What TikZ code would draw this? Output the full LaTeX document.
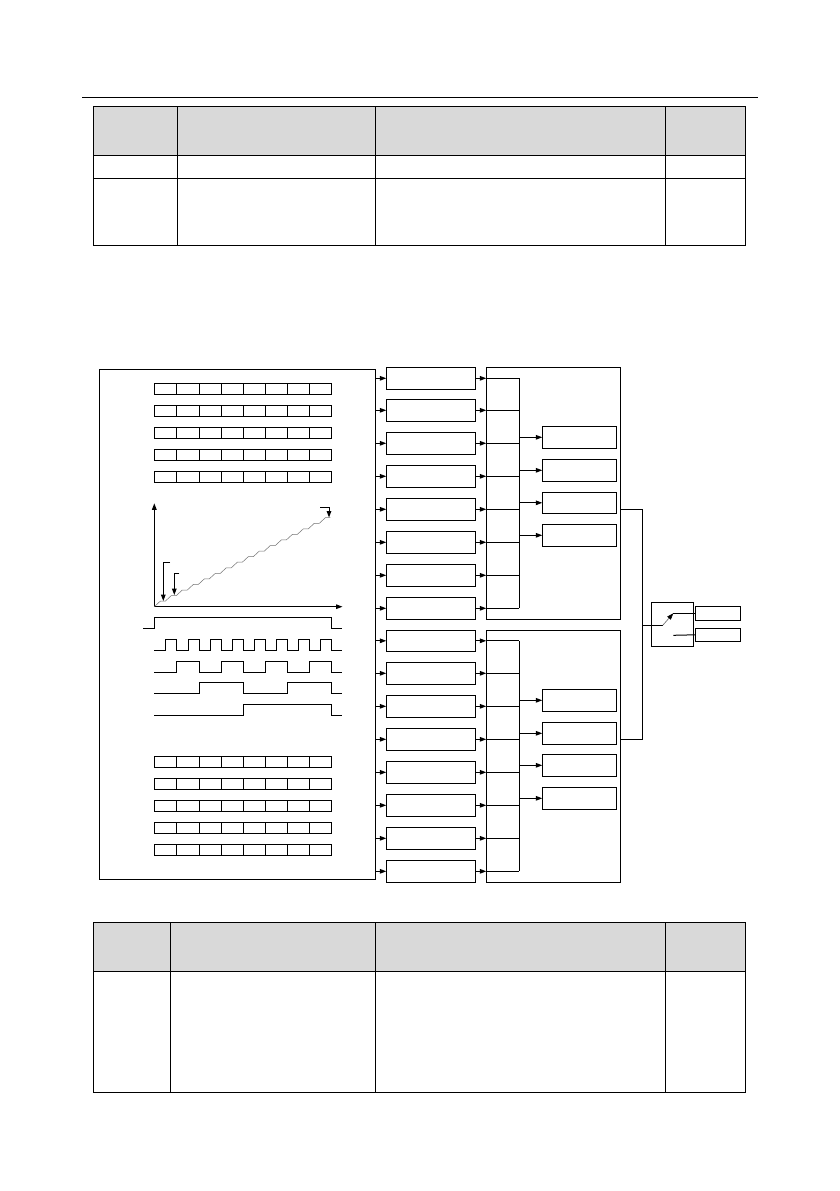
\documentclass[tikz,border=0pt]{standalone}
\usetikzlibrary{arrows.meta}
\definecolor{headgray}{HTML}{D9D9D9}
\newcommand{\bx}[5]{%
  \pgfmathsetmacro{\bxw}{#4-#2}\pgfmathsetmacro{\bxh}{#5-#3}%
  \pgfmathsetmacro{\bxcx}{(#2+#4)/2}\pgfmathsetmacro{\bxcy}{(#3+#5)/2}%
  \node[blk,minimum width=\bxw pt,minimum height=\bxh pt] (#1) at (\bxcx,\bxcy) {};%
}
\tikzset{
  blk/.style={draw=black,line width=1pt,inner sep=0pt,outer sep=0pt,rectangle,fill=none},
  ln/.style={line width=1pt,line cap=butt,line join=miter},
  ar/.style={ln,-{Triangle[length=6.5pt,width=4.6pt]}},
  tbl/.style={line width=1pt},
  stair/.style={line width=0.5pt,draw=black!55}
}
\begin{document}
\begin{tikzpicture}[x=1pt,y=-1pt]
\useasboundingbox (0,0) rectangle (839,1191);
\fill[white] (0,0) rectangle (839,1191);
% page rule
\draw[line width=0.9pt] (82,97.3) -- (757.5,97.3);
% top table
\fill[headgray] (93.7,106.7) rectangle (745.4,155.3);
\draw[tbl] (93.7,106.7) rectangle (745.4,245.3);
\draw[tbl] (93.7,155.3) -- (745.4,155.3);
\draw[tbl] (93.7,178.3) -- (745.4,178.3);
\foreach \x in {177.6,375.4,665.5} \draw[tbl] (\x,106.7) -- (\x,245.3);
% bottom table
\fill[headgray] (93.7,922.3) rectangle (745.4,971.3);
\draw[tbl] (93.7,922.3) rectangle (745.4,1092.3);
\draw[tbl] (93.7,971.3) -- (745.4,971.3);
\foreach \x in {170.4,375.4,665.5} \draw[tbl] (\x,922.3) -- (\x,1092.3);
% main left panel
\bx{main}{99.3}{369.3}{375.7}{879.3}
% register rows
\foreach \y in {383.3,405.3,427.3,449.3,471.3,756.3,778.3,800.3,822.3,844.3}{
  \draw[ln] (154.3,\y) rectangle (331.3,\y+11);
  \foreach \x in {176.3,199.3,221.3,243.7,265.7,287.3,309.3}
    \draw[ln] (\x,\y) -- (\x,\y+11);
}
% ramp plot
\coordinate (org) at (154.3,606.7);
\coordinate (ytop) at (154.3,503.3);
\coordinate (xend) at (342.5,606.7);
\draw[ar] (org) -- (ytop);
\draw[ar] (org) -- (xend);
\draw[stair] (org) \foreach \i in {0,...,15}{
  -- ({154.3+11*\i+6},{606.7-5.56*(\i+1)}) -- ({154.3+11*(\i+1)},{606.7-5.56*(\i+1)})};
\coordinate (m1) at (170,562.3);
\coordinate (m1t) at (163.3,601);
\draw[ar] (m1) -- (m1 -| m1t) -- (m1t);
\coordinate (m2) at (179.3,573.3);
\coordinate (m2t) at (174.3,595);
\draw[ar] (m2) -- (m2 -| m2t) -- (m2t);
\coordinate (m3) at (320,507.3);
\coordinate (m3t) at (329,517.5);
\draw[ar] (m3) -- (m3 -| m3t) -- (m3t);
% waveforms
\draw[ln] (143.3,628.3) -| (154.3,617.3) -| (331.3,628.3) -- (342.3,628.3);
\draw[ln] (154.3,650.3) -| (165.3,639.3) -| (176.3,650.3) -| (188.3,639.3) -| (199.3,650.3)
  -| (210.3,639.3) -| (221.3,650.3) -| (232.3,639.3) -| (243.7,650.3) -| (254.3,639.3)
  -| (265.7,650.3) -| (276.3,639.3) -| (287.3,650.3) -| (298.3,639.3) -| (309.3,650.3)
  -| (320.3,639.3) -| (331.3,650.3) -- (342.3,650.3);
\draw[ln] (154.3,672.3) -| (176.3,661.3) -| (199.3,672.3) -| (221.3,661.3) -| (243.7,672.3)
  -| (265.7,661.3) -| (287.3,672.3) -| (309.3,661.3) -| (331.3,672.3) -- (342.3,672.3);
\draw[ln] (154.3,693.3) -| (199.3,682.3) -| (243.7,693.3) -| (287.3,682.3) -| (331.3,693.3) -- (342.3,693.3);
\draw[ln] (154.3,715.3) -| (243.7,704.3) -| (331.3,715.3) -- (342.3,715.3);
% middle column and large right boxes
\bx{bigA}{486.3}{367.3}{620.3}{619.3}
\bx{bigB}{486.3}{630.3}{620.3}{882.3}
\bx{a1}{386.3}{367.3}{475.3}{389.3}
\bx{a2}{386.3}{399.3}{475.3}{421.3}
\bx{a3}{386.3}{432.3}{475.3}{454.3}
\bx{a4}{386.3}{465.3}{475.3}{487.3}
\bx{a5}{386.3}{498.3}{475.3}{520.3}
\bx{a6}{386.3}{531.3}{475.3}{553.3}
\bx{a7}{386.3}{564.3}{475.3}{586.3}
\bx{a8}{386.3}{597.3}{475.3}{619.3}
\bx{b1}{386.3}{630.3}{475.3}{651.3}
\bx{b2}{386.3}{662.3}{475.3}{684.3}
\bx{b3}{386.3}{695.3}{475.3}{717.3}
\bx{b4}{386.3}{728.3}{475.3}{750.3}
\bx{b5}{386.3}{761.3}{475.3}{783.3}
\bx{b6}{386.3}{794.3}{475.3}{816.3}
\bx{b7}{386.3}{827.3}{475.3}{849.3}
\bx{b8}{386.3}{860.3}{475.3}{882.3}
% inner boxes
\bx{p1}{542.3}{426.3}{616.3}{448.3}
\bx{p2}{542.3}{459.3}{616.3}{481.3}
\bx{p3}{542.3}{492.3}{616.3}{513.3}
\bx{p4}{542.3}{524.3}{616.3}{546.3}
\bx{q1}{542.3}{689.3}{616.3}{711.3}
\bx{q2}{542.3}{722.3}{616.3}{744.3}
\bx{q3}{542.3}{754.3}{616.3}{776.3}
\bx{q4}{542.3}{787.3}{616.3}{809.3}
% buses
\coordinate (busA) at (519.3,367.3);
\coordinate (busB) at (519.3,630.3);
\foreach \i in {1,...,8}{
  \draw[ar] (a\i.west -| main.east) -- (a\i.west);
  \draw[ar] (a\i.east) -- (a\i.east -| bigA.west);
  \draw[ln] (a\i.east -| bigA.west) -- (a\i.east -| busA);
  \draw[ar] (b\i.west -| main.east) -- (b\i.west);
  \draw[ar] (b\i.east) -- (b\i.east -| bigB.west);
  \draw[ln] (b\i.east -| bigB.west) -- (b\i.east -| busB);
}
\draw[ln] (a1.east -| busA) -- (a8.east -| busA);
\draw[ln] (b1.east -| busB) -- (b8.east -| busB);
\foreach \n in {p1,p2,p3,p4}{ \draw[ar] (\n.west -| busA) -- (\n.west); }
\foreach \n in {q1,q2,q3,q4}{ \draw[ar] (\n.west -| busB) -- (\n.west); }
% selector
\bx{sw}{651.3}{602.3}{693.3}{646.3}
\bx{o1}{695.3}{606.3}{740.3}{620.3}
\bx{o2}{695.3}{628.3}{740.3}{641.3}
\coordinate (trunk) at (642.3,625.3);
\coordinate (pole) at (662.7,625.3);
\coordinate (c1) at (673.3,613.3);
\coordinate (c2) at (673.3,635.3);
\draw[ln] (bigA.east |- a5.east) -| (trunk);
\draw[ln] (bigB.east |- b4.east) -| (trunk);
\draw[ln] (trunk) -- (pole);
\draw[line width=0.6pt,draw=black!60,-{Triangle[length=6.5pt,width=4.6pt,black]}] (pole) -- (c1);
\draw[ln] (c1) -- (o1.west);
\draw[ln] (c2) -- (o2.west);
\end{tikzpicture}
\end{document}
